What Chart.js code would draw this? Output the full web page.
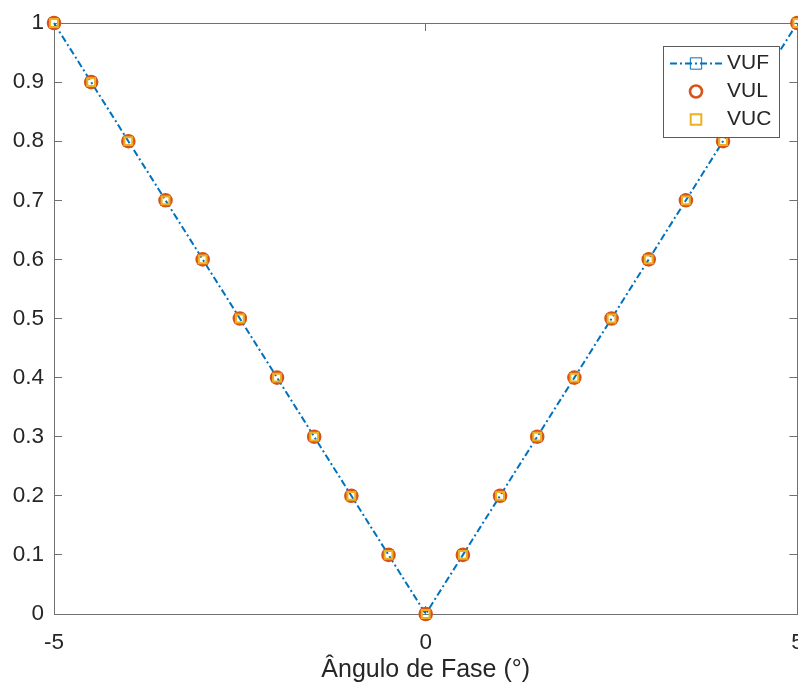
<!DOCTYPE html>
<html>
<head>
<meta charset="utf-8">
<script src="https://cdn.jsdelivr.net/npm/chart.js@4/dist/chart.umd.min.js"></script>
<style>
  html, body { margin: 0; padding: 0; background: #fff; overflow: hidden; }
  #chart { display: block; }
</style>
</head>
<body>
<canvas id="chart" width="806" height="685"></canvas>
<script>
// data
const angles = [-5, -4.5, -4, -3.5, -3, -2.5, -2, -1.5, -1, -0.5, 0, 0.5, 1, 1.5, 2, 2.5, 3, 3.5, 4, 4.5, 5];
const vuf = [1, 0.9, 0.8, 0.7, 0.6, 0.5, 0.4, 0.3, 0.2, 0.1, 0, 0.1, 0.2, 0.3, 0.4, 0.5, 0.6, 0.7, 0.8, 0.9, 1];
const vul = [1, 0.9, 0.8, 0.7, 0.6, 0.5, 0.4, 0.3, 0.2, 0.1, 0, 0.1, 0.2, 0.3, 0.4, 0.5, 0.6, 0.7, 0.8, 0.9, 1];
const vuc = [1, 0.9, 0.8, 0.7, 0.6, 0.5, 0.4, 0.3, 0.2, 0.1, 0, 0.1, 0.2, 0.3, 0.4, 0.5, 0.6, 0.7, 0.8, 0.9, 1];
const seriesNames = ["VUF", "VUL", "VUC"];

const xTicks = [-5, 0, 5];
const xTickLabels = ["-5", "0", "5"];
const yTicks = [0, 0.1, 0.2, 0.3, 0.4, 0.5, 0.6, 0.7, 0.8, 0.9, 1];
const yTickLabels = ["0", "0.1", "0.2", "0.3", "0.4", "0.5", "0.6", "0.7", "0.8", "0.9", "1"];
const xTitle = "Ângulo de Fase (°)";

const FONT = "'Liberation Sans', Arial, Helvetica, sans-serif";
const TEXT = "#262626";
const AXIS = "#707070";

const toPoints = (ys) => angles.map((x, i) => ({ x: x, y: ys[i] }));
const setTicks = (list) => (scale) => {
  scale.ticks = list.map((v) => ({ value: v }));
};

// matlab-like box: inward ticks on all four sides
const axisGrid = { drawOnChartArea: false, drawTicks: true, tickLength: -8, color: AXIS, lineWidth: 1 };
const axisBorder = { display: true, color: AXIS, width: 1 };

// legend drawn inside the axes, like matlab's "northeast"
const boxLegend = {
  id: "boxLegend",
  afterDraw(chart) {
    const ctx = chart.ctx;
    const x0 = 663, y0 = 46, w = 116, h = 91;
    ctx.save();
    ctx.fillStyle = "#fff";
    ctx.fillRect(x0, y0, w, h);
    ctx.strokeStyle = "#5a5a5a";
    ctx.lineWidth = 1;
    ctx.strokeRect(x0 + 0.5, y0 + 0.5, w, h);
    chart.data.datasets.forEach((ds, i) => {
      const y = y0 + 17.5 + i * 28;
      if (ds.showLine) {
        ctx.strokeStyle = ds.borderColor;
        ctx.lineWidth = ds.borderWidth;
        ctx.setLineDash(ds.borderDash || []);
        ctx.beginPath();
        ctx.moveTo(x0 + 7, y);
        ctx.lineTo(x0 + 59, y);
        ctx.stroke();
        ctx.setLineDash([]);
      }
      ctx.strokeStyle = ds.pointBorderColor;
      ctx.fillStyle = "rgba(0,0,0,0)";
      ctx.lineWidth = ds.pointBorderWidth;
      Chart.helpers.drawPoint(ctx, {
        pointStyle: ds.pointStyle,
        radius: ds.legendRadius || ds.pointRadius,
        borderWidth: ds.pointBorderWidth,
        rotation: 0,
      }, x0 + 33, y);
      ctx.fillStyle = TEXT;
      ctx.font = "21px " + FONT;
      ctx.textAlign = "left";
      ctx.textBaseline = "middle";
      ctx.fillText(ds.label, x0 + 64, y);
    });
    ctx.restore();
  },
};

new Chart(document.getElementById("chart"), {
  type: "scatter",
  data: {
    datasets: [
      {
        label: seriesNames[0],
        data: toPoints(vuf),
        showLine: true,
        borderColor: "#0072BD",
        borderWidth: 2,
        borderDash: [7, 3, 2, 3],
        pointStyle: "rect",
        pointRadius: 7,
        legendRadius: 8,
        pointBorderColor: "#0072BD",
        pointBackgroundColor: "rgba(0,0,0,0)",
        pointBorderWidth: 1,
        order: 3,
        clip: false,
      },
      {
        label: seriesNames[1],
        data: toPoints(vul),
        showLine: false,
        pointStyle: "circle",
        pointRadius: 6,
        pointBorderColor: "#D95319",
        pointBackgroundColor: "rgba(0,0,0,0)",
        pointBorderWidth: 2.6,
        order: 2,
        clip: false,
      },
      {
        label: seriesNames[2],
        data: toPoints(vuc),
        showLine: false,
        pointStyle: "rect",
        pointRadius: 5.5,
        legendRadius: 7.5,
        pointBorderColor: "#EDB120",
        pointBackgroundColor: "rgba(0,0,0,0)",
        pointBorderWidth: 2,
        order: 1,
        clip: false,
      },
    ],
  },
  options: {
    responsive: false,
    animation: false,
    devicePixelRatio: 1,
    layout: { padding: 0 },
    plugins: {
      legend: { display: false },
      tooltip: { enabled: false },
    },
    scales: {
      x: {
        type: "linear",
        position: "bottom",
        min: -5,
        max: 5,
        afterBuildTicks: setTicks(xTicks),
        afterFit: (s) => {
          s.height = 71;
          s.paddingLeft = 0;
          s.paddingRight = 0;
        },
        grid: axisGrid,
        border: axisBorder,
        ticks: {
          padding: 23,
          maxRotation: 0,
          autoSkip: false,
          color: TEXT,
          font: { family: FONT, size: 22.5 },
          callback: (v, i) => xTickLabels[i],
        },
        title: {
          display: true,
          text: xTitle,
          color: TEXT,
          padding: 0,
          font: { family: FONT, size: 25, lineHeight: 1.2 },
        },
      },
      x2: {
        type: "linear",
        position: "top",
        min: -5,
        max: 5,
        afterBuildTicks: setTicks(xTicks),
        afterFit: (s) => {
          s.height = 23;
          s.paddingLeft = 0;
          s.paddingRight = 0;
        },
        grid: axisGrid,
        border: axisBorder,
        ticks: { display: false },
      },
      y: {
        type: "linear",
        position: "left",
        min: 0,
        max: 1,
        afterBuildTicks: setTicks(yTicks),
        afterFit: (s) => {
          s.width = 54;
          s.paddingTop = 0;
          s.paddingBottom = 0;
        },
        grid: axisGrid,
        border: axisBorder,
        ticks: {
          padding: 18,
          autoSkip: false,
          color: TEXT,
          font: { family: FONT, size: 22.5 },
          callback: (v, i) => yTickLabels[i],
        },
      },
      y2: {
        type: "linear",
        position: "right",
        min: 0,
        max: 1,
        afterBuildTicks: setTicks(yTicks),
        afterFit: (s) => {
          s.width = 0;
          s.paddingTop = 0;
          s.paddingBottom = 0;
        },
        grid: axisGrid,
        border: axisBorder,
        ticks: { display: false },
      },
    },
  },
  plugins: [boxLegend],
});
</script>
</body>
</html>
